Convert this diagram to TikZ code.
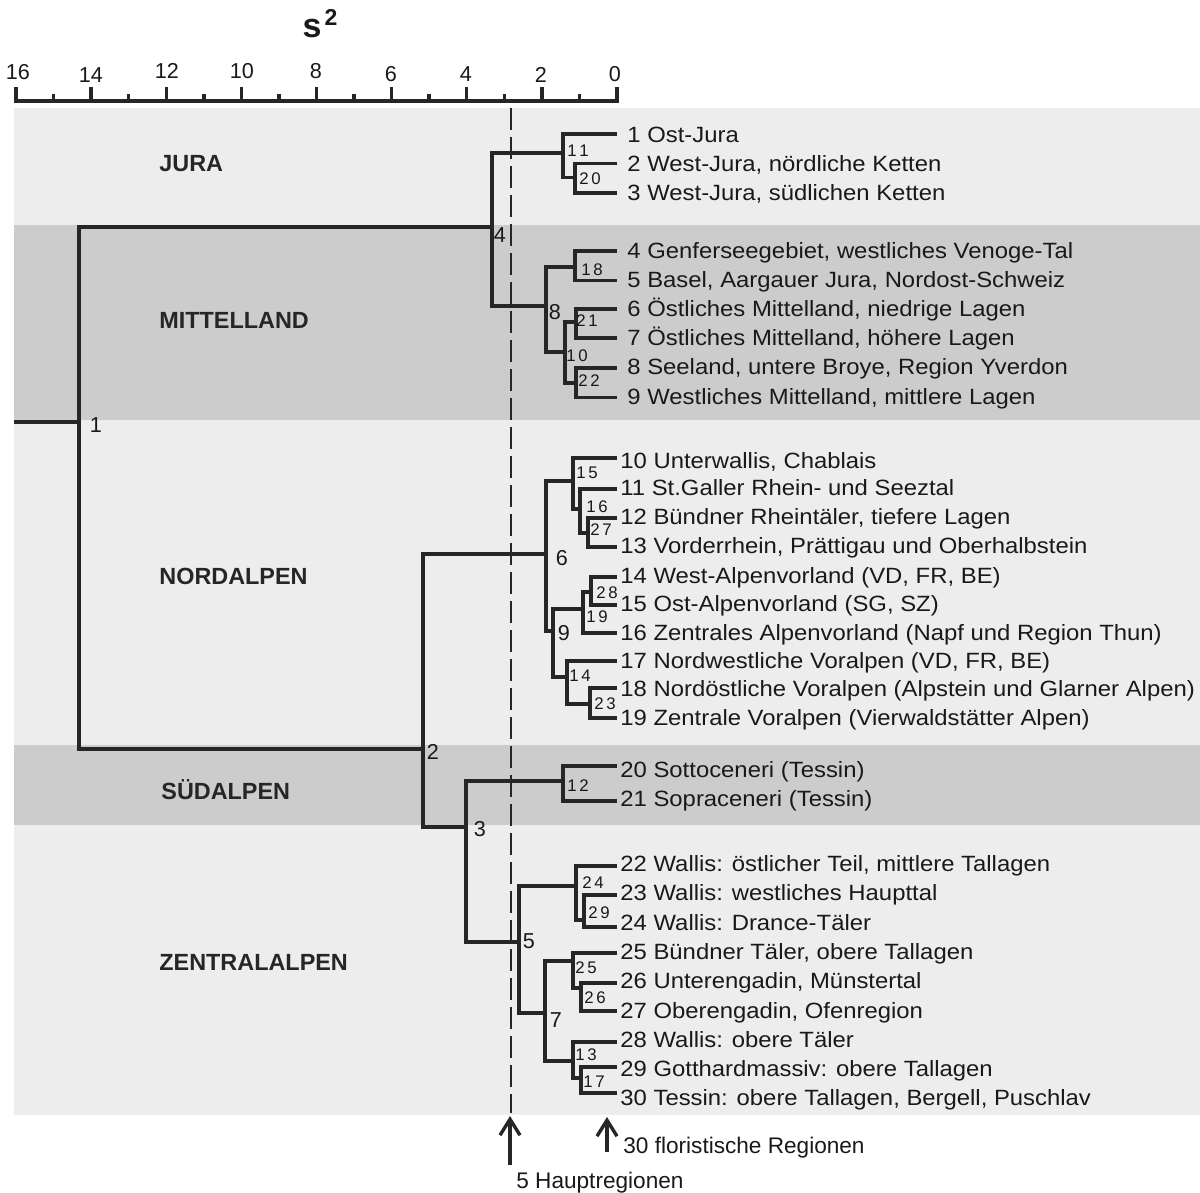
\documentclass[tikz,border=0pt]{standalone}
\usepackage{fontspec}
\setmainfont{Liberation Sans}
\newfontfamily\leaffont[FakeStretch=1.08]{Liberation Sans}
\usetikzlibrary{arrows.meta}
\definecolor{bglight}{gray}{0.93}
\definecolor{bgband}{gray}{0.80}
\newcommand\dlink[3]{\draw[tree] (#2) -- (#1 |- #2) -- (#1 |- #3) -- (#3);}
\begin{document}
\begin{tikzpicture}[x=0.5pt,y=-0.5pt,
  tree/.style={line width=1.7pt, line join=miter, draw=black!85},
  leaf/.style={anchor=base west, inner sep=0pt, text=black!90, font=\leaffont\fontsize{11.05}{12}\selectfont},
  big/.style={inner sep=0pt, text=black!90, font=\fontsize{10.8}{12}\selectfont},
  small/.style={inner sep=0pt, text=black!90, font=\fontsize{8.4}{10}\selectfont},
  region/.style={anchor=west, inner sep=0pt, text=black!85, font=\bfseries\fontsize{11.7}{13}\selectfont},
  axlab/.style={inner sep=0pt, text=black!90, font=\fontsize{10.8}{12}\selectfont},
  note/.style={anchor=base west, inner sep=0pt, text=black!90, font=\fontsize{11.3}{13}\selectfont},
  uparrow/.style={line width=1.7pt, draw=black!85, -{Straight Barb[length=8pt,width=10pt]}},
]
\useasboundingbox (0,0) rectangle (1200,1193);
% backgrounds
\fill[bglight] (14,108) rectangle (1200,1115);
\fill[bgband] (14,225) rectangle (1200,420);
\fill[bgband] (14,745) rectangle (1200,825);

% axis
\draw[tree] (16,87) -- (16,101) -- (617,101) -- (617,87);
\foreach \i in {1,...,15}{
  \pgfmathsetmacro\xx{617-37.5625*\i}
  \pgfmathsetmacro\yy{mod(\i,2)==0 ? 87 : 94}
  \draw[tree] (\xx,101) -- (\xx,\yy);
}
\node[axlab] (ax16) at (18,72) {16};
\node[axlab] (ax14) at (91,75) {14};
\node[axlab] (ax12) at (167,71) {12};
\node[axlab] (ax10) at (242,71) {10};
\node[axlab] (ax8) at (316,71) {8};
\node[axlab] (ax6) at (391,74) {6};
\node[axlab] (ax4) at (466,74) {4};
\node[axlab] (ax2) at (541,75) {2};
\node[axlab] (ax0) at (615,74) {0};
\node[inner sep=0pt, anchor=base, text=black!90] (s2) at (320,38) {\bfseries\fontsize{17}{18}\selectfont s\hspace{1.5pt}\raisebox{6pt}{\fontsize{11.5}{12}\selectfont 2}};

% cut line
\coordinate (cuttop) at (511,108);
\coordinate (cutbot) at (511,1113);
\draw[line width=0.8pt, draw=black!85, dash pattern=on 11pt off 3.5pt] (cuttop) -- (cutbot);

% region labels
\node[region] (rjura) at (159,164) {JURA};
\node[region] (rmitt) at (159,320) {MITTELLAND};
\node[region] (rnord) at (159,576) {NORDALPEN};
\node[region] (rsued) at (161,790) {SÜDALPEN};
\node[region] (rzent) at (159,962) {ZENTRALALPEN};

% tree coordinates
\coordinate (root) at (14,422);
\coordinate (n1) at (79,422);
\coordinate (n2) at (423,749);
\coordinate (n3) at (466,827);
\coordinate (n4) at (492,227);
\coordinate (n5) at (519,942);
\coordinate (n6) at (546,554);
\coordinate (n7) at (545,1013);
\coordinate (n8) at (546,306);
\coordinate (n9) at (553,631);
\coordinate (n10) at (565,352);
\coordinate (n11) at (563,153);
\coordinate (n12) at (563,781);
\coordinate (n13) at (573,1061);
\coordinate (n14) at (567,677);
\coordinate (n15) at (573,481);
\coordinate (n16) at (580,509);
\coordinate (n17) at (581,1078);
\coordinate (n18) at (575,267);
\coordinate (n19) at (583,609);
\coordinate (n20) at (575,177.5);
\coordinate (n21) at (576,322);
\coordinate (n22) at (576,383);
\coordinate (n23) at (590,704);
\coordinate (n24) at (576,886);
\coordinate (n25) at (573,961);
\coordinate (n26) at (581,988);
\coordinate (n27) at (588,533);
\coordinate (n28) at (591,592);
\coordinate (n29) at (584,920);

\foreach \k/\y in {1/134,2/163.5,3/193,4/251,5/280.5,6/309,7/338,8/368,9/397.5,
  10/458,11/489,12/518,13/547,14/577,15/605,16/633,17/661,18/688,19/718,
  20/766,21/801,22/866,23/895,24/927,25/953,26/983,27/1011,28/1042,29/1067,30/1093}
  {\coordinate (l\k) at (617,\y);}

% tree links
\draw[tree] (root) -- (n1);
\dlink{n1}{n4}{n2}
\dlink{n4}{n11}{n8}
\dlink{n11}{l1}{n20}
\dlink{n20}{l2}{l3}
\dlink{n8}{n18}{n10}
\dlink{n18}{l4}{l5}
\dlink{n10}{n21}{n22}
\dlink{n21}{l6}{l7}
\dlink{n22}{l8}{l9}
\dlink{n2}{n6}{n3}
\dlink{n6}{n15}{n9}
\dlink{n15}{l10}{n16}
\dlink{n16}{l11}{n27}
\dlink{n27}{l12}{l13}
\dlink{n9}{n19}{n14}
\dlink{n19}{n28}{l16}
\dlink{n28}{l14}{l15}
\dlink{n14}{l17}{n23}
\dlink{n23}{l18}{l19}
\dlink{n3}{n12}{n5}
\dlink{n12}{l20}{l21}
\dlink{n5}{n24}{n7}
\dlink{n24}{l22}{n29}
\dlink{n29}{l23}{l24}
\dlink{n7}{n25}{n13}
\dlink{n25}{l25}{n26}
\dlink{n26}{l26}{l27}
\dlink{n13}{l28}{n17}
\dlink{n17}{l29}{l30}

% node numbers
\node[big] (b1) at (96,425) {1};
\node[big] (b2) at (433,752) {2};
\node[big] (b3) at (480,829) {3};
\node[big] (b4) at (500,235) {4};
\node[big] (b5) at (529,941) {5};
\node[big] (b6) at (562,558) {6};
\node[big] (b7) at (556,1020) {7};
\node[big] (b8) at (555,312) {8};
\node[big] (b9) at (564,633) {9};
\foreach \nm/\a/\b/\x/\y in {s11/1/1/578/151, s20/2/0/590/179, s18/1/8/592/270,
  s21/2/1/587/321, s10/1/0/577/356, s22/2/2/589/381, s15/1/5/587/473,
  s16/1/6/597/507, s27/2/7/601/530, s28/2/8/607/593, s19/1/9/597/617,
  s14/1/4/580/676, s23/2/3/605/704, s12/1/2/578/786, s24/2/4/593/883,
  s29/2/9/599/913, s25/2/5/586/968, s26/2/6/595/998, s13/1/3/586/1055,
  s17/1/7/594/1082}
  {\node[small] (\nm) at (\x,\y) {\a\hspace{1.4pt}\b};}

% leaf labels
\node[leaf] (t1) at (627,142.5) {1 Ost-Jura};
\node[leaf] (t2) at (627,171.5) {2 West-Jura, nördliche Ketten};
\node[leaf] (t3) at (627,200.5) {3 West-Jura, südlichen Ketten};
\node[leaf] (t4) at (627,258.5) {4 Genferseegebiet, westliches Venoge-Tal};
\node[leaf] (t5) at (627,287.5) {5 Basel, Aargauer Jura, Nordost-Schweiz};
\node[leaf] (t6) at (627,316.5) {6 Östliches Mittelland, niedrige Lagen};
\node[leaf] (t7) at (627,345.5) {7 Östliches Mittelland, höhere Lagen};
\node[leaf] (t8) at (627,374.5) {8 Seeland, untere Broye, Region Yverdon};
\node[leaf] (t9) at (627,404.5) {9 Westliches Mittelland, mittlere Lagen};
\node[leaf] (t10) at (620,468.5) {10 Unterwallis, Chablais};
\node[leaf] (t11) at (620,495.5) {11 St.Galler Rhein- und Seeztal};
\node[leaf] (t12) at (620,524.5) {12 Bündner Rheintäler, tiefere Lagen};
\node[leaf] (t13) at (620,553.5) {13 Vorderrhein, Prättigau und Oberhalbstein};
\node[leaf] (t14) at (620,583.5) {14 West-Alpenvorland (VD, FR, BE)};
\node[leaf] (t15) at (620,611.5) {15 Ost-Alpenvorland (SG, SZ)};
\node[leaf] (t16) at (620,640.5) {16 Zentrales Alpenvorland (Napf und Region Thun)};
\node[leaf] (t17) at (620,668.5) {17 Nordwestliche Voralpen (VD, FR, BE)};
\node[leaf] (t18) at (620,696.5) {18 Nordöstliche Voralpen (Alpstein und Glarner Alpen)};
\node[leaf] (t19) at (620,725.5) {19 Zentrale Voralpen (Vierwaldstätter Alpen)};
\node[leaf] (t20) at (620,777.5) {20 Sottoceneri (Tessin)};
\node[leaf] (t21) at (620,806.5) {21 Sopraceneri (Tessin)};
\node[leaf] (t22) at (620,871.5) {22 Wallis: östlicher Teil, mittlere Tallagen};
\node[leaf] (t23) at (620,900.5) {23 Wallis: westliches Haupttal};
\node[leaf] (t24) at (620,930.5) {24 Wallis: Drance-Täler};
\node[leaf] (t25) at (620,959.5) {25 Bündner Täler, obere Tallagen};
\node[leaf] (t26) at (620,988.5) {26 Unterengadin, Münstertal};
\node[leaf] (t27) at (620,1018.5) {27 Oberengadin, Ofenregion};
\node[leaf] (t28) at (620,1047.5) {28 Wallis: obere Täler};
\node[leaf] (t29) at (620,1076.5) {29 Gotthardmassiv: obere Tallagen};
\node[leaf] (t30) at (620,1105.5) {30 Tessin: obere Tallagen, Bergell, Puschlav};

% bottom arrows
\coordinate (a1tail) at (510,1165);
\coordinate (a1tip) at (510,1116);
\coordinate (a2tail) at (607,1152);
\coordinate (a2tip) at (607,1117);
\draw[uparrow] (a1tail) -- (a1tip);
\draw[uparrow] (a2tail) -- (a2tip);
\node[note] (flor) at (623,1153) {30 floristische Regionen};
\node[note] (haupt) at (516,1188) {5 Hauptregionen};
\end{tikzpicture}
\end{document}
